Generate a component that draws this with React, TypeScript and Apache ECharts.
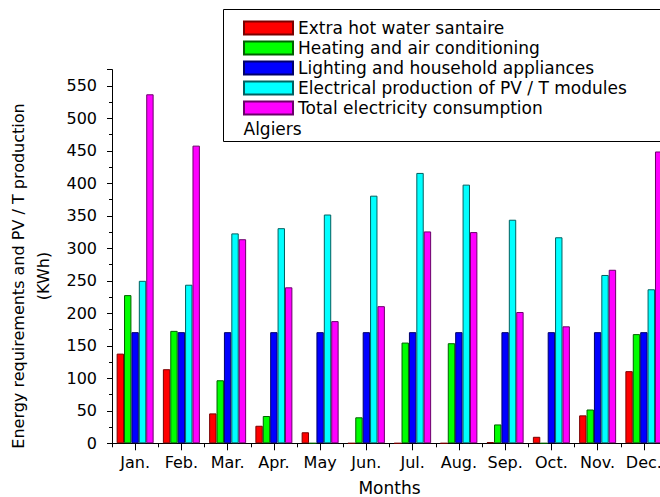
import React, { useEffect, useRef } from "react";
import * as echarts from "echarts";

const months = ["Jan.", "Feb.", "Mar.", "Apr.", "May", "Jun.", "Jul.", "Aug.", "Sep.", "Oct.", "Nov.", "Dec."];
const hotWater = [138, 114, 46, 27, 17, 0, 0, 0, 2, 10, 43, 111];
const heating = [228, 173, 97, 42, 0, 40, 155, 154, 29, 0, 52, 168];
const lighting = [171, 171, 171, 171, 171, 171, 171, 171, 171, 171, 171, 171];
const pvProduction = [250, 244, 323, 331, 352, 381, 416, 398, 344, 317, 259, 237];
const totalConsumption = [537, 458, 314, 240, 188, 211, 326, 325, 202, 180, 267, 449];

const seriesNames = [
  "Extra hot water santaire",
  "Heating and air conditioning",
  "Lighting and household appliances",
  "Electrical production of PV / T modules",
  "Total electricity consumption",
];
const fills = ["#ff0000", "#00ff00", "#0000ff", "#00ffff", "#ff00ff"];
const borders = ["#7a0000", "#006000", "#00006a", "#006060", "#6a006a"];
const yTitle = "Energy requirements and PV / T production\n(KWh)";
const xTitle = "Months";
const cityLabel = "Algiers";

const FONT = "DejaVu Sans";

export default function App() {
  const ref = useRef<HTMLDivElement>(null);
  useEffect(() => {
    if (!ref.current) return;
    const chart = echarts.init(ref.current, undefined, { renderer: "svg" });
    const dataSets = [hotWater, heating, lighting, pvProduction, totalConsumption];
    chart.setOption({
      animation: false,
      backgroundColor: "#ffffff",
      textStyle: { fontFamily: FONT, color: "#000" },
      grid: {
        left: 112,
        width: 555,
        top: 69.6,
        bottom: 53.7,
        containLabel: false,
        outerBoundsMode: "none",
      },
      legend: {
        orient: "vertical",
        left: 243,
        top: 18,
        padding: 0,
        itemGap: 0,
        itemWidth: 49,
        itemHeight: 13,
        icon: "rect",
        z: 5,
        textStyle: { fontFamily: FONT, fontSize: 17, color: "#000", lineHeight: 20 },
        data: seriesNames,
      },
      graphic: [
        {
          type: "rect",
          z: 1,
          shape: { x: 223.5, y: 9.5, width: 450, height: 132 },
          style: { fill: "#fff", stroke: "#000", lineWidth: 1 },
        },
        {
          type: "text",
          z: 6,
          x: 243.5,
          y: 128.5,
          style: { text: cityLabel, font: `17px '${FONT}'`, fill: "#000", textVerticalAlign: "middle" },
        },
        {
          type: "text",
          z: 6,
          x: 30.5,
          y: 276,
          rotation: Math.PI / 2,
          style: {
            text: yTitle,
            font: `16px '${FONT}'`,
            fill: "#000",
            textAlign: "center",
            textVerticalAlign: "middle",
            lineHeight: 25,
          },
        },
      ],
      xAxis: [
        {
          type: "category",
          data: months,
          position: "bottom",
          name: xTitle,
          nameLocation: "middle",
          nameGap: 36,
          nameTextStyle: { fontFamily: FONT, fontSize: 17, color: "#000" },
          axisLine: { show: true, lineStyle: { color: "#000", width: 1 } },
          axisTick: { show: true, alignWithLabel: true, length: 7, lineStyle: { color: "#000" } },
          axisLabel: { fontFamily: FONT, fontSize: 16, color: "#000", margin: 11, interval: 0 },
          splitLine: { show: false },
        },
        {
          type: "category",
          data: months,
          position: "bottom",
          axisLine: { show: false },
          axisTick: { show: true, alignWithLabel: false, length: 4, lineStyle: { color: "#000" } },
          axisLabel: { show: false },
          splitLine: { show: false },
        },
      ],
      yAxis: {
        type: "value",
        min: 0,
        max: 575,
        interval: 50,
        axisLine: { show: true, lineStyle: { color: "#000", width: 1 } },
        axisTick: { show: true, length: 5, lineStyle: { color: "#000" } },
        minorTick: { show: true, splitNumber: 2, length: 3, lineStyle: { color: "#000" } },
        axisLabel: {
          fontFamily: FONT,
          fontSize: 16,
          color: "#000",
          margin: 15,
          formatter: (v: number) => (v % 50 === 0 ? String(v) : ""),
        },
        splitLine: { show: false },
      },
      series: seriesNames.map((name, i) => ({
        name,
        type: "bar",
        xAxisIndex: 0,
        data: dataSets[i],
        barGap: "0%",
        barCategoryGap: "20%",
        itemStyle: { color: fills[i], borderColor: borders[i], borderWidth: 1 },
      })),
    });
    return () => chart.dispose();
  }, []);
  return (
    <div
      ref={ref}
      style={{ position: "fixed", left: 0, top: 0, width: 660, height: 497 }}
    />
  );
}
